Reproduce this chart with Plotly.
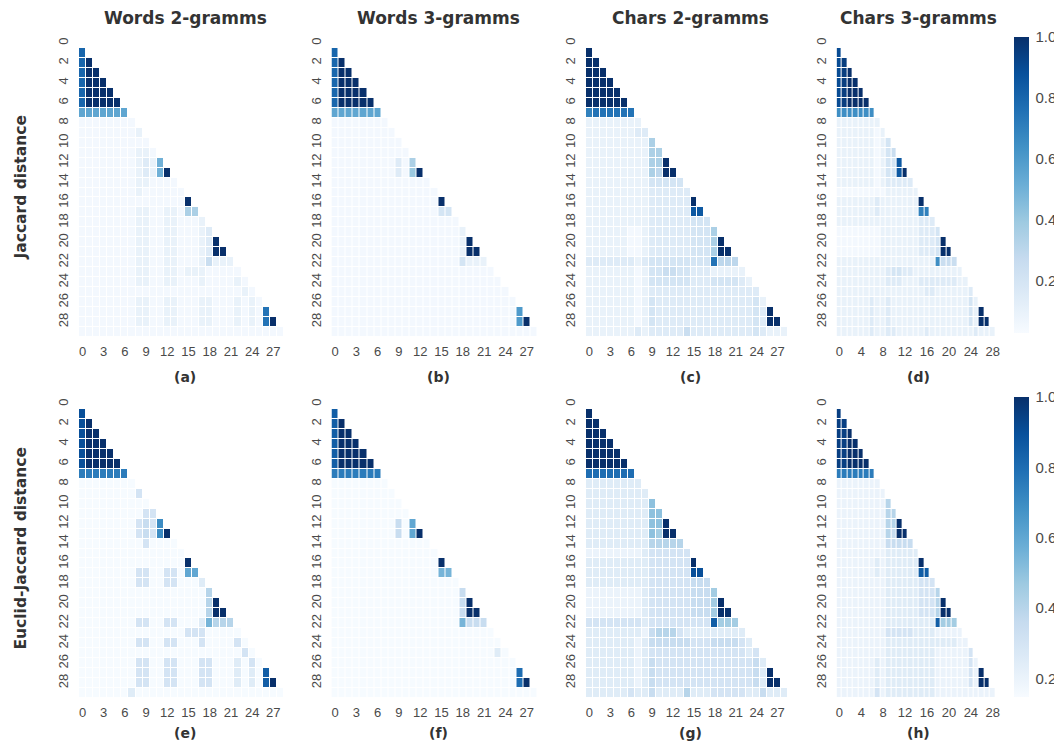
import re
import plotly.graph_objects as go

# ---------------- data ----------------
# each cell value is a letter: a=0.00, b=0.05, ... u=1.00 (0.05 steps)
# rows are run-length encoded: letter followed by optional repeat count
LEVELS = "abcdefghijklmnopqrstu"
N = 30

col_titles = ["Words 2-gramms", "Words 3-gramms", "Chars 2-gramms", "Chars 3-gramms"]
row_titles = ["Jaccard distance", "Euclid-Jaccard distance"]
panel_labels = ["(a)", "(b)", "(c)", "(d)", "(e)", "(f)", "(g)", "(h)"]
x_ticks_3 = [0, 3, 6, 9, 12, 15, 18, 21, 24, 27]
x_ticks_4 = [0, 4, 8, 12, 16, 20, 24, 28]
y_ticks = [0, 2, 4, 6, 8, 10, 12, 14, 16, 18, 20, 22, 24, 26, 28]
cbar_ticks = [0.2, 0.4, 0.6, 0.8, 1.0]
cbar_labels = ["0.2", "0.4", "0.6", "0.8", "1.0"]
top_range = [0.03, 1.0]
bottom_range = [0.147, 1.0]

jaccard_words2 = [
    "q", "qu", "qu2", "qu3", "qu4", "qu5", "l7",
    "b8", "b8c", "b10", "b8c2b", "b8cdck", "b8cdcku", "b8c2b4", "b8cb6",
    "b15u", "b8c2b2c2bh2", "b8c2b2c2b3c", "b8c2b2c2b3cd", "b8c2b2c2b3cdu",
    "b8c2b2c2b3cdu2", "b8c2b2c2b3cfc3", "b8c2b2c2bc3b5", "b8c2b2c2b3cb4cb",
    "b23cb", "b8c2b2c2b3c2b3cbcb", "b8c2b2c2b3c2b3cbcbp",
    "b8c2b2c2b3c2b3cbcbpu", "b29",
]
jaccard_words3 = [
    "q", "qu", "qu2", "qu3", "qu4", "qu5", "l7",
    "b8", "b9", "b10", "b11", "b9dbh", "b9dbiu", "b14", "b15",
    "b15u", "b15e2", "b18", "b18c", "b18cu", "b18cu2", "b18ec3",
    "b23", "b24", "b25", "b26", "b26m", "b26mu", "b29",
]
jaccard_chars2 = [
    "u", "u2", "u3", "u4", "u5", "u6", "op6",
    "c8", "c7d2", "c9h", "c9h2", "c9h2u", "c9hgu2", "c9e5", "c9d6",
    "c9d6u", "c9d6r2", "c9d6e3", "c6b2cd6e3h", "c6b2cd6e3hu", "c6b2cd6e3hu2",
    "d7cde9pg3", "c7bce2f2e2d3c5", "c7bce6d3e4dc", "c7bcd16", "c7bced8d6ec",
    "c7bced8d6edu", "c7bced8d6edu2", "c7dcd5fd9edc3",
]
jaccard_chars3 = [
    "s", "st", "stu", "stu2", "stu3", "stu4", "n7",
    "c8", "c7bc", "c7bce", "c7bcef", "c7bce2r", "c7bce2ru", "c7bcd5", "b9c6",
    "c7dc7u", "c7dc7o2", "c15d3", "b8c7d3e", "b8c7d3eu", "b8c7d3eu2",
    "c18nf3", "c9de2d2c9", "c9d3c3d7c2", "c16d2c6d", "c6dc2dc14ec",
    "c6dc2dc14ecu", "c6dc2dc14ecu2", "c6dc2d2c5dc8dc3",
]
euclid_words2 = [
    "s", "su", "su2", "su3", "su4", "su5", "p7",
    "d8", "d8g", "d10", "d9g2", "d8ghgo", "d8ghgou", "d9gd4", "d15",
    "d15u", "d8g2d2g2dm2", "d8g2d2g2d3f", "d18i", "d18iu", "d18iu2",
    "d8g2d2g2d3fli3", "d15g3d5", "d8g2d2g2d3gd4gd", "d23gd",
    "d8g2d2g2d3g2d3fdgd", "d8g2d2g2d3g2d3fdfdr", "d8g2d2g2d3g2d3fdfdru",
    "d7fd21",
]
euclid_words3 = [
    "r", "ru", "ru2", "ru3", "ru4", "ru5", "p7",
    "d8", "d9", "d10", "d11", "d9hdm", "d9hdmu", "d14", "d15",
    "d15u", "d15l2", "d18", "d18h", "d18hu", "d18hu2", "d18lh3",
    "d23", "d24", "d23fd", "d26", "d26q", "d26qu", "d29",
]
euclid_chars2 = [
    "u", "u2", "u3", "u4", "u5", "u6", "q7",
    "f8", "f9", "f9k", "f9k2", "f9k2u", "f9kju2", "f9i5", "e8fg6",
    "f9g6u", "f9g6s2", "f9g6h3", "e8fg6h3j", "e8fg6h3ju", "e8fg6h3ju2",
    "g8fg9rj3", "f8ehi3gf9", "f7efh6g3h4gf", "f7efg14fg", "f7efhg14hf",
    "f7efhg14hfu", "f7efhg14hfu2", "f6gf2hf4if3g5f2hf3",
]
euclid_chars3 = [
    "t", "t2", "t2u", "t2u2", "t2u3", "t2u4", "p7",
    "e8", "e9", "e9i", "e9i2", "e9i2u", "e9ihu2", "e9h5", "e9f6",
    "e7fef6u", "e7fef6r2", "e9f6g3", "e9f6g3i", "e9f6g3iu", "e9f6g3iu2",
    "e9f9rj3", "e9g5f4e5", "e9f13e2", "e9f9e6g", "e7fef9e6ge",
    "e7fef9e6geu", "e7fef9e6geu2", "e7gef9e11",
]

panels = [jaccard_words2, jaccard_words3, jaccard_chars2, jaccard_chars3,
          euclid_words2, euclid_words3, euclid_chars2, euclid_chars3]

# matplotlib "Blues"
BLUES = [[0.0, "#f7fbff"], [0.125, "#deebf7"], [0.25, "#c6dbef"],
         [0.375, "#9ecae1"], [0.5, "#6baed6"], [0.625, "#4292c6"],
         [0.75, "#2171b5"], [0.875, "#08519c"], [1.0, "#08306b"]]


def decode(rows):
    z = [[None] * N for _ in range(N)]
    for i, code in enumerate(rows, start=1):
        vals = []
        for ch, cnt in re.findall(r"([a-u])(\d*)", code):
            vals.extend([LEVELS.index(ch) * 0.05] * (int(cnt) if cnt else 1))
        for j in range(min(i, len(vals))):
            z[i][j] = round(vals[j], 3)
    return z


# ---------------- layout (screen pixels; page body has an 8px margin) ----------------
OFF = 8
W, H = 1062 - OFF, 744 - OFF


def X(px):
    return (px - OFF) / W


def Y(py):
    return 1 - (py - OFF) / H


col_px = [(79, 291), (331.5, 544.5), (586, 795), (836.6, 1001)]
row_px = [(38, 337), (399, 698)]
cbar_px = [(37, 333), (397, 697)]
cbar_x = 1014

fig = go.Figure()
FONT = "Liberation Sans, Arial, sans-serif"
BOLD_FONT = "DejaVu Sans, Verdana, sans-serif"
tick_font = dict(family=FONT, size=13, color="#4a4a4a")

for k, rows in enumerate(panels):
    r, c = divmod(k, 4)
    n = k + 1
    xa = "x" if n == 1 else f"x{n}"
    ya = "y" if n == 1 else f"y{n}"
    fig.add_trace(go.Heatmap(
        z=decode(rows), x=list(range(N)), y=list(range(N)),
        coloraxis="coloraxis" if r == 0 else "coloraxis2",
        xgap=1, ygap=1, xaxis=xa, yaxis=ya, hoverongaps=False,
    ))
    x0, x1 = col_px[c]
    y0, y1 = row_px[r]
    xkey = "xaxis" if n == 1 else f"xaxis{n}"
    ykey = "yaxis" if n == 1 else f"yaxis{n}"
    fig.layout[xkey] = dict(
        domain=[X(x0), X(x1)], anchor=ya, range=[-0.5, N - 0.5],
        tickmode="array", tickvals=x_ticks_4 if c == 3 else x_ticks_3,
        ticks="", showgrid=False, zeroline=False, showline=False,
        tickfont=tick_font, ticklabelstandoff=5, automargin=False,
    )
    fig.layout[ykey] = dict(
        domain=[Y(y1), Y(y0)], anchor=xa, range=[N - 0.5, -0.5],
        tickmode="array", tickvals=y_ticks, tickangle=-90,
        ticks="", showgrid=False, zeroline=False, showline=False,
        tickfont=tick_font, ticklabelstandoff=7, automargin=False,
    )


def cbar(r):
    t, b = cbar_px[r]
    return dict(
        x=X(cbar_x), xanchor="left", xpad=0, y=Y(t), yanchor="top", ypad=0,
        len=b - t, lenmode="pixels", thickness=15, thicknessmode="pixels",
        outlinewidth=0, tickmode="array", tickvals=cbar_ticks, ticktext=cbar_labels,
        ticks="outside", ticklen=4, tickcolor="rgba(0,0,0,0)",
        tickfont=dict(family=FONT, size=15, color="#4a4a4a"),
    )


fig.update_layout(
    width=W, height=H, margin=dict(l=0, r=0, t=0, b=0, pad=0, autoexpand=False),
    paper_bgcolor="white", plot_bgcolor="white", showlegend=False,
    coloraxis=dict(colorscale=BLUES, cmin=top_range[0], cmax=top_range[1], colorbar=cbar(0)),
    coloraxis2=dict(colorscale=BLUES, cmin=bottom_range[0], cmax=bottom_range[1], colorbar=cbar(1)),
)

ann = []
for c, t in enumerate(col_titles):
    x0, x1 = col_px[c]
    ann.append(dict(text=f"<b>{t}</b>", x=X((x0 + x1) / 2), y=Y(18),
                    xanchor="center", yanchor="middle",
                    xref="paper", yref="paper", showarrow=False,
                    font=dict(family=BOLD_FONT, size=17, color="#333333")))
for r, t in enumerate(row_titles):
    y0, y1 = row_px[r]
    ann.append(dict(text=f"<b>{t}</b>", x=X(20), y=Y((y0 + y1) / 2),
                    xanchor="center", yanchor="middle",
                    xref="paper", yref="paper", showarrow=False, textangle=-90,
                    font=dict(family=BOLD_FONT, size=15.5, color="#333333")))
for k, lab in enumerate(panel_labels):
    r, c = divmod(k, 4)
    x0, x1 = col_px[c]
    ann.append(dict(text=f"<b>{lab}</b>", x=X((x0 + x1) / 2), y=Y(377 if r == 0 else 733),
                    xanchor="center", yanchor="middle",
                    xref="paper", yref="paper", showarrow=False,
                    font=dict(family=BOLD_FONT, size=14, color="#333333")))
fig.update_layout(annotations=ann)

fig.write_html("out.html")
